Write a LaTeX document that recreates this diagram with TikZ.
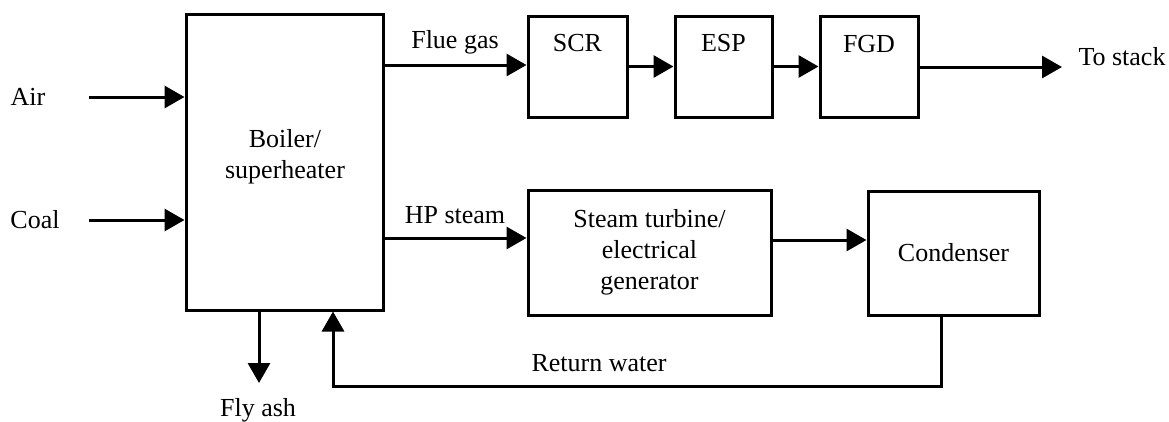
\documentclass[tikz,border=0pt]{standalone}
\usepackage{fontspec}
\setmainfont{Liberation Serif}
\usetikzlibrary{arrows.meta}
\begin{document}
\begin{tikzpicture}[x=1pt,y=-1pt,
  box/.style={draw, line width=3pt, inner sep=0pt},
  arr/.style={line width=3pt, -{Triangle[length=20pt,width=22pt]}},
  lbl/.style={font=\fontsize{26}{31}\selectfont, inner sep=0pt, align=center}]
\useasboundingbox (0,0) rectangle (1169,421);
% boxes
\node[box, minimum width=197pt, minimum height=296pt] (boiler) at (284.5,162) {};
\node[lbl] (boilert) at (285,157) {Boiler/\\superheater};
\node[box, minimum width=99pt, minimum height=101pt] (scr) at (577.5,66.5) {};
\node[lbl] (scrt) at (577.5,43) {SCR};
\node[box, minimum width=97pt, minimum height=101pt] (esp) at (723.5,66.5) {};
\node[lbl] (espt) at (723.5,43) {ESP};
\node[box, minimum width=98pt, minimum height=101pt] (fgd) at (869,66.5) {};
\node[lbl] (fgdt) at (869,44) {FGD};
\node[box, minimum width=243pt, minimum height=125pt, lbl] (turb) at (649.5,252.5) {Steam turbine/\\electrical\\generator};
\node[box, minimum width=171pt, minimum height=124pt, lbl] (cond) at (953.5,253) {Condenser};
% labels
\node[lbl] (air) at (28,97) {Air};
\node[lbl] (coal) at (35,220) {Coal};
\node[lbl] (flue) at (455,42) {Flue gas};
\node[lbl] (hp) at (455,215) {HP steam};
\node[lbl] (stack) at (1122,57) {To stack};
\node[lbl] (rwt) at (599,363) {Return water};
\node[lbl] (fly) at (258,410) {Fly ash};
% coordinates
\coordinate (airs) at (89,97);
\coordinate (coals) at (89,220);
\coordinate (flueh) at (0,65);
\coordinate (hph) at (0,238);
\coordinate (tch) at (0,240);
\coordinate (stk) at (1062,67);
\coordinate (rw) at (941,386);
\coordinate (rwb) at (333,386);
\coordinate (fa) at (259,383);
% connectors
\draw[arr] (airs) -- (airs -| boiler.west);
\draw[arr] (coals) -- (coals -| boiler.west);
\draw[arr] (boiler.east |- flueh) -- (scr.west |- flueh);
\draw[arr] (scr.east) -- (esp.west);
\draw[arr] (esp.east) -- (fgd.west);
\draw[arr] (fgd.east |- stk) -- (stk);
\draw[arr] (boiler.east |- hph) -- (turb.west |- hph);
\draw[arr] (turb.east |- tch) -- (cond.west |- tch);
\draw[arr] (rw |- cond.south) -- (rw) -- (rwb) -- (rwb |- boiler.south);
\draw[arr] (fa |- boiler.south) -- (fa);
\end{tikzpicture}
\end{document}
